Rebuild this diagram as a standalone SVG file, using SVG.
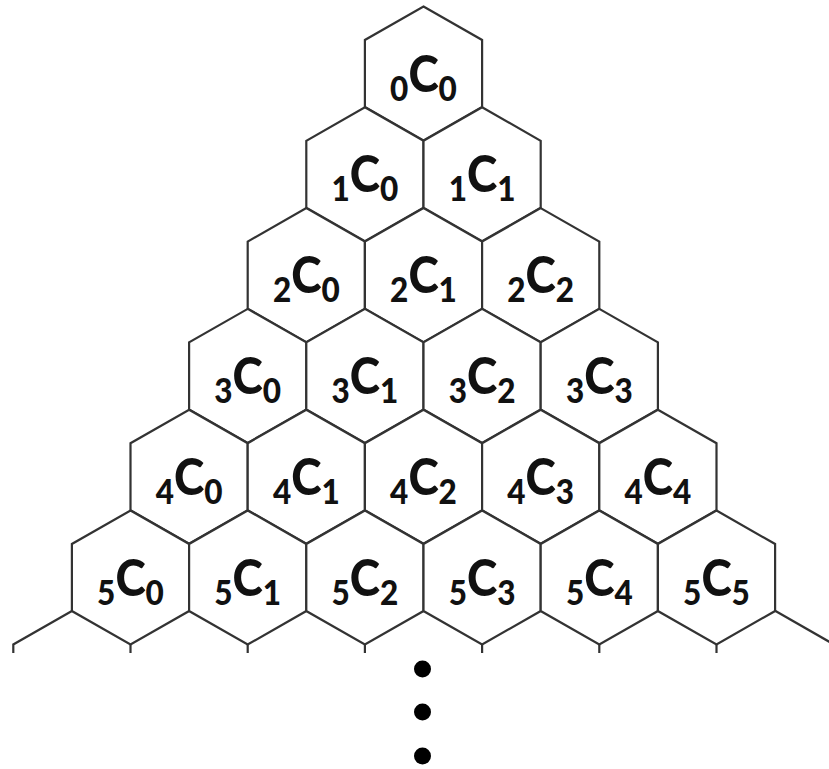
<svg xmlns="http://www.w3.org/2000/svg" xmlns:xlink="http://www.w3.org/1999/xlink" width="829" height="769" viewBox="0 0 829 769">
<style>
.hex{fill:#fff;stroke:#333;stroke-width:2.2;stroke-linejoin:miter}
.ln{fill:none;stroke:#333;stroke-width:2.2}
.lbl{font-family:Lato,"Open Sans","Liberation Sans",sans-serif;font-weight:900;fill:#111;text-anchor:middle}
.big{font-size:51px}
.sub{font-size:35px}
.dot{fill:#000}
</style>
<defs>
<polygon id="hx" class="hex" points="0,-67 58.6,-33.5 58.6,33.5 0,67 -58.6,33.5 -58.6,-33.5"/>
</defs>
<g id="connectors">
<polyline class="ln" points="71.9,611 13.3,644.5 13.3,653"/>
<polyline class="ln" points="775.5,611 834,644.5"/>
<line class="ln" x1="130.5" y1="644.5" x2="130.5" y2="653"/>
<line class="ln" x1="247.7" y1="644.5" x2="247.7" y2="653"/>
<line class="ln" x1="364.9" y1="644.5" x2="364.9" y2="653"/>
<line class="ln" x1="482.1" y1="644.5" x2="482.1" y2="653"/>
<line class="ln" x1="599.3" y1="644.5" x2="599.3" y2="653"/>
<line class="ln" x1="716.5" y1="644.5" x2="716.5" y2="653"/>
</g>
<g id="n0_0" transform="translate(423.5,73.5)"><use xlink:href="#hx"/><text class="lbl" transform="scale(0.9,1)" y="18"><tspan class="sub" dy="9">0</tspan><tspan class="big" dy="-9">C</tspan><tspan class="sub" dy="9">0</tspan></text></g>
<g id="n1_0" transform="translate(364.9,174.3)"><use xlink:href="#hx"/><text class="lbl" transform="scale(0.9,1)" y="18"><tspan class="sub" dy="9">1</tspan><tspan class="big" dy="-9">C</tspan><tspan class="sub" dy="9">0</tspan></text></g>
<g id="n1_1" transform="translate(482.1,174.3)"><use xlink:href="#hx"/><text class="lbl" transform="scale(0.9,1)" y="18"><tspan class="sub" dy="9">1</tspan><tspan class="big" dy="-9">C</tspan><tspan class="sub" dy="9">1</tspan></text></g>
<g id="n2_0" transform="translate(306.3,275.1)"><use xlink:href="#hx"/><text class="lbl" transform="scale(0.9,1)" y="18"><tspan class="sub" dy="9">2</tspan><tspan class="big" dy="-9">C</tspan><tspan class="sub" dy="9">0</tspan></text></g>
<g id="n2_1" transform="translate(423.5,275.1)"><use xlink:href="#hx"/><text class="lbl" transform="scale(0.9,1)" y="18"><tspan class="sub" dy="9">2</tspan><tspan class="big" dy="-9">C</tspan><tspan class="sub" dy="9">1</tspan></text></g>
<g id="n2_2" transform="translate(540.7,275.1)"><use xlink:href="#hx"/><text class="lbl" transform="scale(0.9,1)" y="18"><tspan class="sub" dy="9">2</tspan><tspan class="big" dy="-9">C</tspan><tspan class="sub" dy="9">2</tspan></text></g>
<g id="n3_0" transform="translate(247.7,375.9)"><use xlink:href="#hx"/><text class="lbl" transform="scale(0.9,1)" y="18"><tspan class="sub" dy="9">3</tspan><tspan class="big" dy="-9">C</tspan><tspan class="sub" dy="9">0</tspan></text></g>
<g id="n3_1" transform="translate(364.9,375.9)"><use xlink:href="#hx"/><text class="lbl" transform="scale(0.9,1)" y="18"><tspan class="sub" dy="9">3</tspan><tspan class="big" dy="-9">C</tspan><tspan class="sub" dy="9">1</tspan></text></g>
<g id="n3_2" transform="translate(482.1,375.9)"><use xlink:href="#hx"/><text class="lbl" transform="scale(0.9,1)" y="18"><tspan class="sub" dy="9">3</tspan><tspan class="big" dy="-9">C</tspan><tspan class="sub" dy="9">2</tspan></text></g>
<g id="n3_3" transform="translate(599.3,375.9)"><use xlink:href="#hx"/><text class="lbl" transform="scale(0.9,1)" y="18"><tspan class="sub" dy="9">3</tspan><tspan class="big" dy="-9">C</tspan><tspan class="sub" dy="9">3</tspan></text></g>
<g id="n4_0" transform="translate(189.1,476.7)"><use xlink:href="#hx"/><text class="lbl" transform="scale(0.9,1)" y="18"><tspan class="sub" dy="9">4</tspan><tspan class="big" dy="-9">C</tspan><tspan class="sub" dy="9">0</tspan></text></g>
<g id="n4_1" transform="translate(306.3,476.7)"><use xlink:href="#hx"/><text class="lbl" transform="scale(0.9,1)" y="18"><tspan class="sub" dy="9">4</tspan><tspan class="big" dy="-9">C</tspan><tspan class="sub" dy="9">1</tspan></text></g>
<g id="n4_2" transform="translate(423.5,476.7)"><use xlink:href="#hx"/><text class="lbl" transform="scale(0.9,1)" y="18"><tspan class="sub" dy="9">4</tspan><tspan class="big" dy="-9">C</tspan><tspan class="sub" dy="9">2</tspan></text></g>
<g id="n4_3" transform="translate(540.7,476.7)"><use xlink:href="#hx"/><text class="lbl" transform="scale(0.9,1)" y="18"><tspan class="sub" dy="9">4</tspan><tspan class="big" dy="-9">C</tspan><tspan class="sub" dy="9">3</tspan></text></g>
<g id="n4_4" transform="translate(657.9,476.7)"><use xlink:href="#hx"/><text class="lbl" transform="scale(0.9,1)" y="18"><tspan class="sub" dy="9">4</tspan><tspan class="big" dy="-9">C</tspan><tspan class="sub" dy="9">4</tspan></text></g>
<g id="n5_0" transform="translate(130.5,577.5)"><use xlink:href="#hx"/><text class="lbl" transform="scale(0.9,1)" y="18"><tspan class="sub" dy="9">5</tspan><tspan class="big" dy="-9">C</tspan><tspan class="sub" dy="9">0</tspan></text></g>
<g id="n5_1" transform="translate(247.7,577.5)"><use xlink:href="#hx"/><text class="lbl" transform="scale(0.9,1)" y="18"><tspan class="sub" dy="9">5</tspan><tspan class="big" dy="-9">C</tspan><tspan class="sub" dy="9">1</tspan></text></g>
<g id="n5_2" transform="translate(364.9,577.5)"><use xlink:href="#hx"/><text class="lbl" transform="scale(0.9,1)" y="18"><tspan class="sub" dy="9">5</tspan><tspan class="big" dy="-9">C</tspan><tspan class="sub" dy="9">2</tspan></text></g>
<g id="n5_3" transform="translate(482.1,577.5)"><use xlink:href="#hx"/><text class="lbl" transform="scale(0.9,1)" y="18"><tspan class="sub" dy="9">5</tspan><tspan class="big" dy="-9">C</tspan><tspan class="sub" dy="9">3</tspan></text></g>
<g id="n5_4" transform="translate(599.3,577.5)"><use xlink:href="#hx"/><text class="lbl" transform="scale(0.9,1)" y="18"><tspan class="sub" dy="9">5</tspan><tspan class="big" dy="-9">C</tspan><tspan class="sub" dy="9">4</tspan></text></g>
<g id="n5_5" transform="translate(716.5,577.5)"><use xlink:href="#hx"/><text class="lbl" transform="scale(0.9,1)" y="18"><tspan class="sub" dy="9">5</tspan><tspan class="big" dy="-9">C</tspan><tspan class="sub" dy="9">5</tspan></text></g>
<g id="ellipsis">
<circle class="dot" cx="422.5" cy="669" r="8.5"/>
<circle class="dot" cx="422.5" cy="712" r="8.5"/>
<circle class="dot" cx="422.5" cy="756" r="8.5"/>
</g>
</svg>
